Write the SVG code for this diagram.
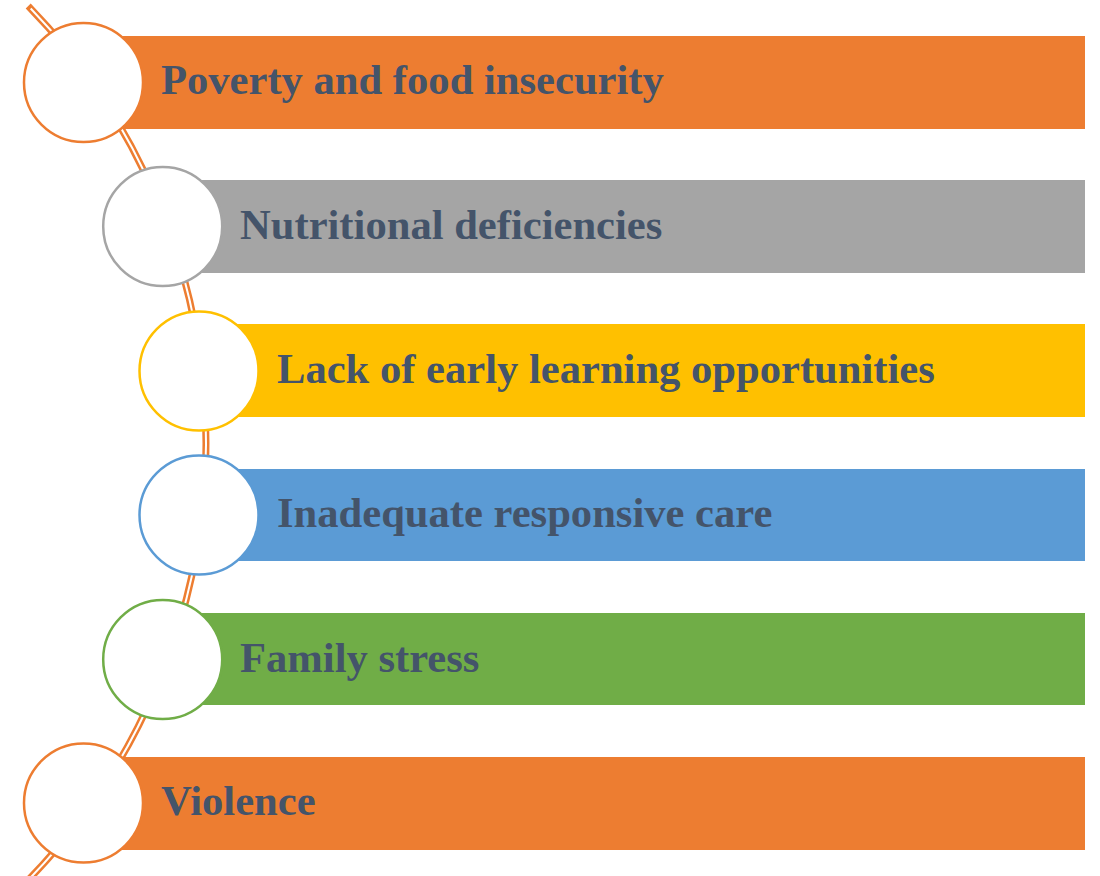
<svg xmlns="http://www.w3.org/2000/svg" width="1100" height="876" viewBox="0 0 1100 876">
  <style>
    .label { font-family: "Liberation Serif", "Times New Roman", serif; font-weight: bold; font-size: 42.6px; fill: #44546A; }
    .ring { fill: #FFFFFF; stroke-width: 2.5; }
  </style>
  <rect width="1100" height="876" fill="#FFFFFF"/>

  <!-- double-line spine arc running behind the circles -->
  <g id="connectors" fill="none">
    <path d="M 28.2 6 A 626 626 0 0 1 28.2 880" stroke="#ED7D31" stroke-width="7"/>
    <path d="M 30.7 8.5 A 626 626 0 0 1 28.2 880" stroke="#FFFFFF" stroke-width="2"/>
  </g>

  <g id="node1">
    <rect x="84" y="36" width="1001" height="93" fill="#ED7D31"/>
    <circle class="ring" cx="83.5" cy="82.5" r="59.5" stroke="#ED7D31"/>
    <text class="label" x="161" y="94">Poverty and food insecurity</text>
  </g>
  <g id="node2">
    <rect x="163" y="180" width="922" height="93" fill="#A5A5A5"/>
    <circle class="ring" cx="162.7" cy="226.5" r="59.5" stroke="#A5A5A5"/>
    <text class="label" x="240" y="238.5">Nutritional deficiencies</text>
  </g>
  <g id="node3">
    <rect x="199" y="324" width="886" height="93" fill="#FFC000"/>
    <circle class="ring" cx="199" cy="371" r="59.5" stroke="#FFC000"/>
    <text class="label" x="277" y="383">Lack of early learning opportunities</text>
  </g>
  <g id="node4">
    <rect x="199" y="469" width="886" height="92" fill="#5B9BD5"/>
    <circle class="ring" cx="199" cy="515" r="59.5" stroke="#5B9BD5"/>
    <text class="label" x="277" y="527">Inadequate responsive care</text>
  </g>
  <g id="node5">
    <rect x="163" y="613" width="922" height="92" fill="#70AD47"/>
    <circle class="ring" cx="162.7" cy="659.5" r="59.5" stroke="#70AD47"/>
    <text class="label" x="240" y="671.5">Family stress</text>
  </g>
  <g id="node6">
    <rect x="84" y="757" width="1001" height="93" fill="#ED7D31"/>
    <circle class="ring" cx="83.5" cy="803" r="59.5" stroke="#ED7D31"/>
    <text class="label" x="161" y="815">Violence</text>
  </g>
</svg>
